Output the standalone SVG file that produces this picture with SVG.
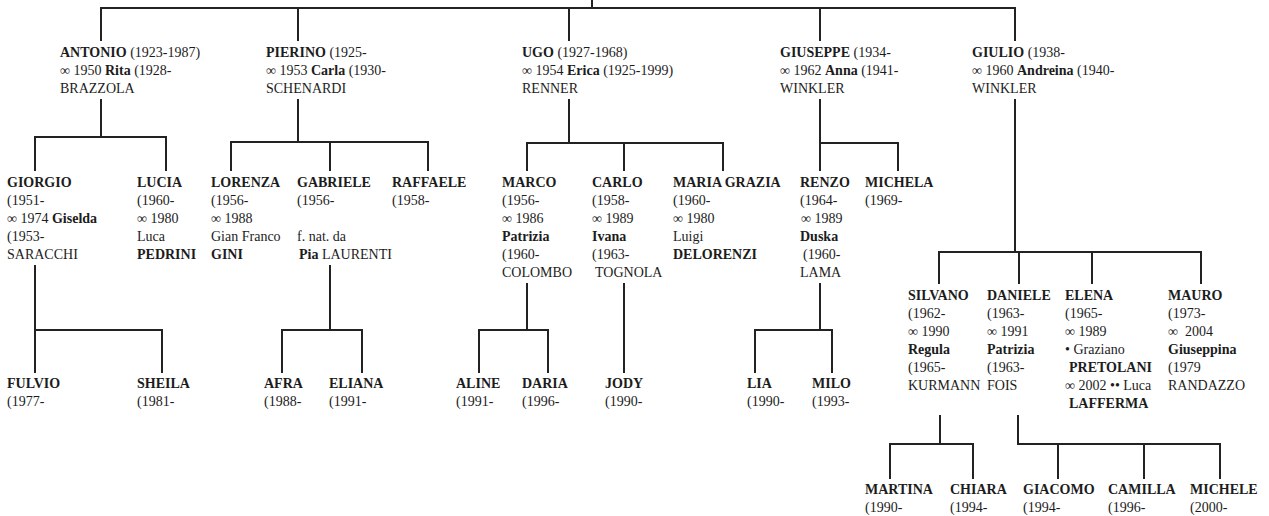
<svg xmlns="http://www.w3.org/2000/svg" width="1269" height="516" viewBox="0 0 1269 516">
<style>
text{font-family:"Liberation Serif","Times New Roman",serif;font-size:14px;fill:#1c1c1c}
.b{font-weight:bold}
#connectors path{fill:none;stroke:#222;stroke-width:2;stroke-linecap:square}
</style>
<rect width="1269" height="516" fill="#fff"/>
<g id="connectors">
<path d="M592 0V8M101 40V8H1015V40M298 8V40M569 8V40M820 8V40"/>
<path d="M101 100V137M35 170V137H166V170"/>
<path d="M298 100V142M231 170V142H428V170M330 142V170"/>
<path d="M569 100V143M527 170V143H723V170M624 143V170"/>
<path d="M820 100V170M820 143H898V170"/>
<path d="M1015 100V252M939 283V252H1201V283M1019 252V283M1092 252V283"/>
<path d="M35 266V372M35 330H162V372"/>
<path d="M330 266V330M282 372V330H362V372"/>
<path d="M527 284V330M479 372V330H548V372"/>
<path d="M624 284V372"/>
<path d="M820 284V330M755 372V330H832V372"/>
<path d="M940 416V444M890 478V444H973V478"/>
<path d="M1018 416V444H1220V478M1058 444V478M1144 444V478"/>
</g>
<g id="antonio"><text x="60" y="57"><tspan class="b">ANTONIO</tspan> (1923-1987)</text><text x="60" y="75">∞ 1950 <tspan class="b">Rita</tspan> (1928-</text><text x="60" y="93">BRAZZOLA</text></g>
<g id="pierino"><text x="266" y="57"><tspan class="b">PIERINO</tspan> (1925-</text><text x="266" y="75">∞ 1953 <tspan class="b">Carla</tspan> (1930-</text><text x="266" y="93">SCHENARDI</text></g>
<g id="ugo"><text x="522" y="57"><tspan class="b">UGO</tspan> (1927-1968)</text><text x="522" y="75">∞ 1954 <tspan class="b">Erica</tspan> (1925-1999)</text><text x="522" y="93">RENNER</text></g>
<g id="giuseppe"><text x="780" y="57"><tspan class="b">GIUSEPPE</tspan> (1934-</text><text x="780" y="75">∞ 1962 <tspan class="b">Anna</tspan> (1941-</text><text x="780" y="93">WINKLER</text></g>
<g id="giulio"><text x="972" y="57"><tspan class="b">GIULIO</tspan> (1938-</text><text x="972" y="75">∞ 1960 <tspan class="b">Andreina</tspan> (1940-</text><text x="972" y="93">WINKLER</text></g>
<g id="giorgio"><text x="7" y="187" class="b">GIORGIO</text><text x="7" y="205">(1951-</text><text x="7" y="223">∞ 1974 <tspan class="b">Giselda</tspan></text><text x="7" y="241">(1953-</text><text x="7" y="259">SARACCHI</text></g>
<g id="lucia"><text x="137" y="187" class="b">LUCIA</text><text x="137" y="205">(1960-</text><text x="137" y="223">∞ 1980</text><text x="137" y="241">Luca</text><text x="137" y="259" class="b">PEDRINI</text></g>
<g id="lorenza"><text x="211" y="187" class="b">LORENZA</text><text x="211" y="205">(1956-</text><text x="211" y="223">∞ 1988</text><text x="211" y="241">Gian Franco</text><text x="211" y="259" class="b">GINI</text></g>
<g id="gabriele"><text x="297" y="187" class="b">GABRIELE</text><text x="297" y="205">(1956-</text><text x="297" y="241">f. nat. da</text><text x="299" y="259"><tspan class="b">Pia</tspan> LAURENTI</text></g>
<g id="raffaele"><text x="392" y="187" class="b">RAFFAELE</text><text x="392" y="205">(1958-</text></g>
<g id="marco"><text x="502" y="187" class="b">MARCO</text><text x="502" y="205">(1956-</text><text x="502" y="223">∞ 1986</text><text x="502" y="241" class="b">Patrizia</text><text x="502" y="259">(1960-</text><text x="502" y="277">COLOMBO</text></g>
<g id="carlo"><text x="592" y="187" class="b">CARLO</text><text x="592" y="205">(1958-</text><text x="592" y="223">∞ 1989</text><text x="592" y="241" class="b">Ivana</text><text x="592" y="259">(1963-</text><text x="595" y="277">TOGNOLA</text></g>
<g id="mariagrazia"><text x="673" y="187" class="b">MARIA GRAZIA</text><text x="673" y="205">(1960-</text><text x="673" y="223">∞ 1980</text><text x="673" y="241">Luigi</text><text x="673" y="259" class="b">DELORENZI</text></g>
<g id="renzo"><text x="800" y="187" class="b">RENZO</text><text x="800" y="205">(1964-</text><text x="801" y="223">∞ 1989</text><text x="800" y="241" class="b">Duska</text><text x="803" y="259">(1960-</text><text x="800" y="277">LAMA</text></g>
<g id="michela"><text x="865" y="187" class="b">MICHELA</text><text x="865" y="205">(1969-</text></g>
<g id="silvano"><text x="908" y="300" class="b">SILVANO</text><text x="908" y="318">(1962-</text><text x="908" y="336">∞ 1990</text><text x="908" y="354" class="b">Regula</text><text x="908" y="372">(1965-</text><text x="908" y="390">KURMANN</text></g>
<g id="daniele"><text x="987" y="300" class="b">DANIELE</text><text x="987" y="318">(1963-</text><text x="987" y="336">∞ 1991</text><text x="987" y="354" class="b">Patrizia</text><text x="987" y="372">(1963-</text><text x="987" y="390">FOIS</text></g>
<g id="elena"><text x="1065" y="300" class="b">ELENA</text><text x="1065" y="318">(1965-</text><text x="1065" y="336">∞ 1989</text><text x="1065" y="354">• Graziano</text><text x="1069" y="372" class="b">PRETOLANI</text><text x="1065" y="390">∞ 2002 •• Luca</text><text x="1069" y="408" class="b">LAFFERMA</text></g>
<g id="mauro"><text x="1168" y="300" class="b">MAURO</text><text x="1168" y="318">(1973-</text><text x="1168" y="336">∞&#160; 2004</text><text x="1168" y="354" class="b">Giuseppina</text><text x="1168" y="372">(1979</text><text x="1168" y="390">RANDAZZO</text></g>
<g id="fulvio"><text x="7" y="388" class="b">FULVIO</text><text x="7" y="406">(1977-</text></g>
<g id="sheila"><text x="137" y="388" class="b">SHEILA</text><text x="137" y="406">(1981-</text></g>
<g id="afra"><text x="264" y="388" class="b">AFRA</text><text x="264" y="406">(1988-</text></g>
<g id="eliana"><text x="329" y="388" class="b">ELIANA</text><text x="329" y="406">(1991-</text></g>
<g id="aline"><text x="456" y="388" class="b">ALINE</text><text x="456" y="406">(1991-</text></g>
<g id="daria"><text x="522" y="388" class="b">DARIA</text><text x="522" y="406">(1996-</text></g>
<g id="jody"><text x="605" y="388" class="b">JODY</text><text x="605" y="406">(1990-</text></g>
<g id="lia"><text x="747" y="388" class="b">LIA</text><text x="747" y="406">(1990-</text></g>
<g id="milo"><text x="812" y="388" class="b">MILO</text><text x="812" y="406">(1993-</text></g>
<g id="martina"><text x="865" y="494" class="b">MARTINA</text><text x="865" y="512">(1990-</text></g>
<g id="chiara"><text x="950" y="494" class="b">CHIARA</text><text x="950" y="512">(1994-</text></g>
<g id="giacomo"><text x="1023" y="494" class="b">GIACOMO</text><text x="1023" y="512">(1994-</text></g>
<g id="camilla"><text x="1108" y="494" class="b">CAMILLA</text><text x="1108" y="512">(1996-</text></g>
<g id="michele"><text x="1190" y="494" class="b">MICHELE</text><text x="1190" y="512">(2000-</text></g>
</svg>
